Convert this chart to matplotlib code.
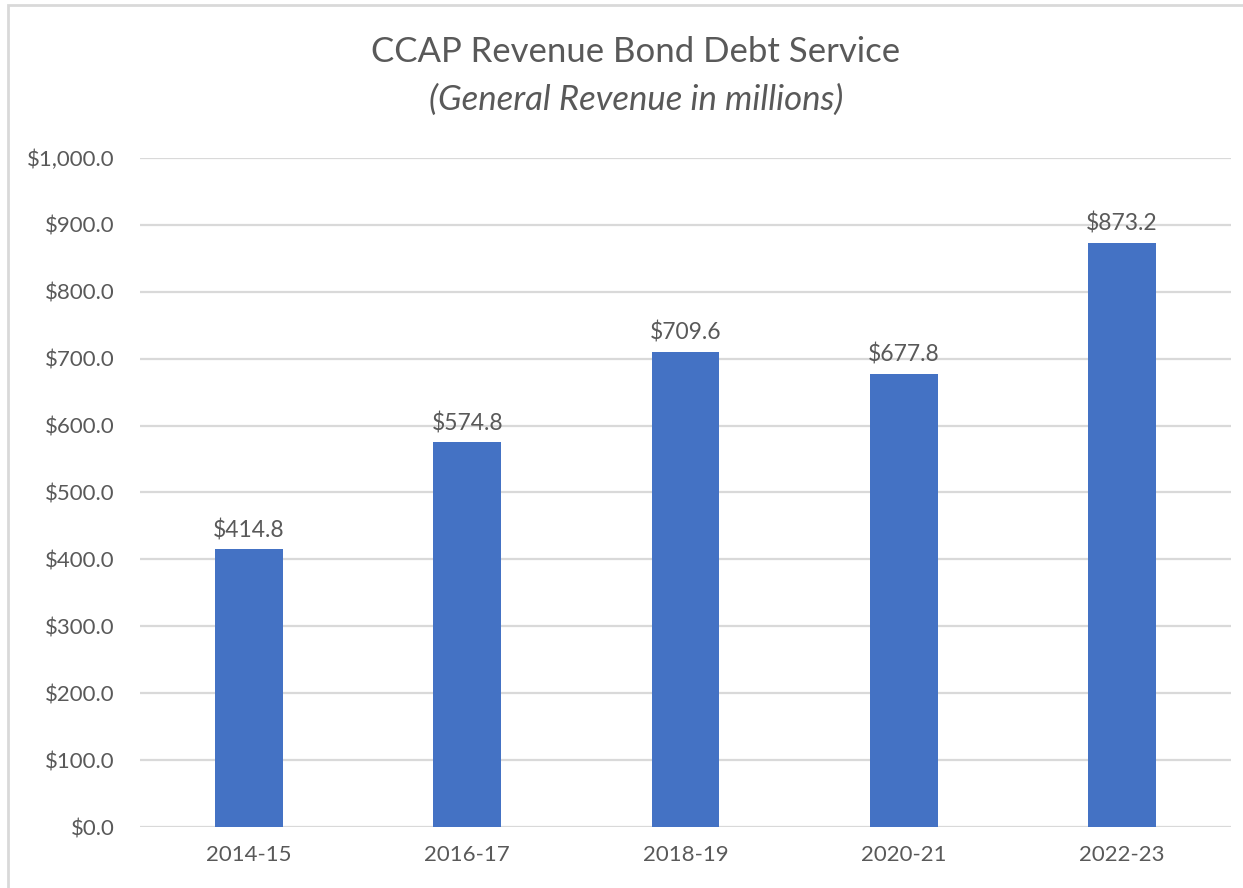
import numpy as np
import matplotlib.pyplot as plt
from matplotlib.patches import Rectangle

years = ['2014-15', '2016-17', '2018-19', '2020-21', '2022-23']
debt_service = [414.8, 574.8, 709.6, 677.8, 873.2]
y_ticks = [0, 100, 200, 300, 400, 500, 600, 700, 800, 900, 1000]

plt.rcParams['font.family'] = ['Lato', 'DejaVu Sans']
txt = '#595959'

fig = plt.figure(figsize=(12.43, 8.88), dpi=100)
ax = fig.add_axes([140/1243, 1 - 827/888, 1091/1243, 669/888])

x = np.arange(len(years))
ax.bar(x, debt_service, width=0.31, color='#4472C4', zorder=3)
for xi, v in zip(x, debt_service):
    ax.annotate(f'${v:,.1f}', (xi, v), xytext=(0, 6), textcoords='offset points',
                ha='center', va='bottom', fontsize=16.5, color=txt)

ax.set_xlim(-0.5, len(years) - 0.5)
ax.set_ylim(0, 1000)
ax.set_yticks(y_ticks)
ax.set_yticklabels([f'${t:,.1f}' for t in y_ticks])
ax.set_xticks(x)
ax.set_xticklabels(years)
ax.tick_params(axis='both', length=0, labelsize=16, colors=txt)
ax.tick_params(axis='y', pad=18)
ax.tick_params(axis='x', pad=13)
ax.grid(axis='y', color='#d9d9d9', linewidth=1.6, zorder=0)
for s in ax.spines.values():
    s.set_visible(False)

fig.text(636/1243, 1 - 52/888, 'CCAP Revenue Bond Debt Service', ha='center', va='center',
         fontsize=25, color=txt)
fig.text(636/1243, 1 - 100/888, '(General Revenue in millions)', ha='center', va='center',
         fontsize=25, color=txt, style='italic')

# outer chart border
fig.patches.append(Rectangle((8/1243, -0.05), 1.2, 1 - 5/888 + 0.05, transform=fig.transFigure,
                             fill=False, edgecolor='#d9d9d9', linewidth=2))

fig.savefig('out.png', dpi=100)
